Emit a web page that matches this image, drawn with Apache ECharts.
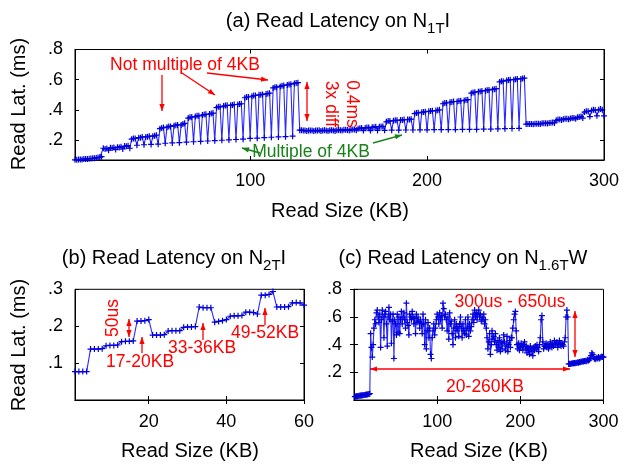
<!DOCTYPE html>
<html>
<head>
<meta charset="utf-8">
<script src="https://cdn.jsdelivr.net/npm/echarts@6/dist/echarts.min.js"></script>
<style>
  html, body { margin: 0; padding: 0; background: #fff; }
  #main { width: 623px; height: 467px; }
</style>
</head>
<body>
<div id="main"></div>
<script>
(function () {
    // (a) N1T I, read latency (ms) for read sizes 1..300 KB
    const latA = [
        0.068, 0.068, 0.070, 0.071, 0.071, 0.073, 0.074, 0.074, 0.076, 0.077, 0.078, 0.079, 0.081, 0.083, 0.085, 0.089,
        0.145, 0.140, 0.143, 0.132, 0.148, 0.146, 0.150, 0.137, 0.152, 0.150, 0.155, 0.140, 0.160, 0.158, 0.162, 0.145,
        0.205, 0.210, 0.210, 0.165, 0.215, 0.215, 0.220, 0.168, 0.220, 0.222, 0.225, 0.170, 0.225, 0.228, 0.232, 0.172,
        0.275, 0.280, 0.282, 0.178, 0.285, 0.290, 0.290, 0.180, 0.295, 0.298, 0.300, 0.182, 0.300, 0.305, 0.310, 0.185,
        0.345, 0.350, 0.352, 0.188, 0.355, 0.360, 0.360, 0.190, 0.365, 0.368, 0.370, 0.193, 0.372, 0.375, 0.378, 0.195,
        0.415, 0.420, 0.420, 0.198, 0.425, 0.428, 0.430, 0.200, 0.430, 0.432, 0.435, 0.203, 0.435, 0.438, 0.440, 0.205,
        0.480, 0.485, 0.485, 0.210, 0.490, 0.495, 0.495, 0.212, 0.500, 0.500, 0.502, 0.215, 0.505, 0.508, 0.510, 0.218,
        0.545, 0.550, 0.550, 0.220, 0.555, 0.560, 0.562, 0.222, 0.565, 0.568, 0.570, 0.225, 0.575, 0.578, 0.580, 0.265,
        0.265, 0.262, 0.263, 0.260, 0.262, 0.263, 0.262, 0.260, 0.263, 0.262, 0.264, 0.260, 0.263, 0.264, 0.262, 0.260,
        0.264, 0.265, 0.263, 0.260, 0.265, 0.266, 0.265, 0.262, 0.267, 0.268, 0.266, 0.263, 0.268, 0.270, 0.270, 0.265,
        0.275, 0.278, 0.280, 0.262, 0.280, 0.282, 0.283, 0.262, 0.285, 0.285, 0.287, 0.263, 0.288, 0.290, 0.290, 0.264,
        0.320, 0.325, 0.325, 0.265, 0.328, 0.330, 0.330, 0.265, 0.332, 0.333, 0.335, 0.266, 0.335, 0.336, 0.338, 0.266,
        0.375, 0.378, 0.380, 0.267, 0.383, 0.385, 0.387, 0.267, 0.390, 0.392, 0.393, 0.268, 0.395, 0.397, 0.400, 0.268,
        0.440, 0.445, 0.445, 0.268, 0.450, 0.452, 0.455, 0.269, 0.455, 0.458, 0.460, 0.270, 0.462, 0.465, 0.467, 0.270,
        0.510, 0.515, 0.517, 0.270, 0.520, 0.522, 0.525, 0.272, 0.527, 0.530, 0.532, 0.272, 0.535, 0.537, 0.540, 0.273,
        0.585, 0.590, 0.590, 0.275, 0.595, 0.597, 0.600, 0.276, 0.600, 0.602, 0.605, 0.277, 0.605, 0.608, 0.610, 0.305,
        0.305, 0.306, 0.305, 0.304, 0.307, 0.308, 0.307, 0.306, 0.310, 0.310, 0.311, 0.309, 0.313, 0.314, 0.315, 0.313,
        0.330, 0.335, 0.336, 0.333, 0.338, 0.340, 0.340, 0.337, 0.342, 0.345, 0.345, 0.340, 0.350, 0.352, 0.355, 0.345,
        0.385, 0.390, 0.390, 0.355, 0.395, 0.400, 0.398, 0.360, 0.400, 0.405, 0.400, 0.360
    ];

    // (b) N2T I, read sizes 1..60 KB
    const latB = [
        0.077, 0.077, 0.077, 0.077, 0.138, 0.138, 0.138, 0.139, 0.147, 0.148, 0.148, 0.149,
        0.158, 0.159, 0.159, 0.160, 0.214, 0.214, 0.215, 0.218, 0.176, 0.176, 0.176, 0.177,
        0.187, 0.188, 0.188, 0.188, 0.197, 0.198, 0.198, 0.199, 0.252, 0.250, 0.250, 0.250,
        0.211, 0.213, 0.215, 0.218, 0.227, 0.228, 0.228, 0.229, 0.238, 0.238, 0.237, 0.233,
        0.284, 0.284, 0.286, 0.294, 0.252, 0.252, 0.252, 0.253, 0.263, 0.264, 0.263, 0.257
    ];

    // (c) N1.6T W, read sizes 1..300 KB
    const latC = [
        0.025, 0.026, 0.027, 0.028, 0.029, 0.030, 0.031, 0.032, 0.033, 0.034, 0.035, 0.036, 0.037, 0.038, 0.039, 0.040, 0.041, 0.043, 0.046,
        0.48, 0.38, 0.31, 0.40, 0.52, 0.58, 0.55, 0.63, 0.65, 0.60,
        0.56, 0.62, 0.38, 0.58, 0.65, 0.60, 0.45, 0.62, 0.64, 0.55,
        0.39, 0.60, 0.67, 0.58, 0.62, 0.41, 0.57, 0.62, 0.30, 0.58,
        0.55, 0.47, 0.62, 0.49, 0.60, 0.48, 0.58, 0.64, 0.55, 0.60,
        0.63, 0.58, 0.52, 0.70, 0.56, 0.54, 0.47, 0.62, 0.60, 0.58,
        0.64, 0.60, 0.55, 0.59, 0.48, 0.62, 0.56, 0.60, 0.57, 0.52,
        0.58, 0.55, 0.48, 0.62, 0.55, 0.40, 0.58, 0.37, 0.50, 0.56,
        0.45, 0.52, 0.33, 0.30, 0.45, 0.50, 0.55, 0.47, 0.52, 0.58,
        0.62, 0.60, 0.55, 0.63, 0.58, 0.61, 0.52, 0.70, 0.66, 0.60,
        0.62, 0.58, 0.50, 0.60, 0.44, 0.63, 0.55, 0.57, 0.48, 0.40,
        0.52, 0.58, 0.45, 0.55, 0.50, 0.53, 0.46, 0.55, 0.60, 0.52,
        0.45, 0.55, 0.50, 0.48, 0.58, 0.47, 0.52, 0.60, 0.46, 0.55,
        0.50, 0.53, 0.58, 0.62, 0.56, 0.65, 0.60, 0.63, 0.58, 0.62,
        0.65, 0.60, 0.62, 0.57, 0.60, 0.58, 0.62, 0.55, 0.58, 0.52,
        0.45, 0.37, 0.42, 0.48, 0.33, 0.40, 0.50, 0.44, 0.46, 0.42,
        0.48, 0.40, 0.36, 0.43, 0.38, 0.45, 0.35, 0.42, 0.37, 0.41,
        0.47, 0.42, 0.36, 0.39, 0.46, 0.35, 0.40, 0.43, 0.38, 0.45,
        0.45, 0.52, 0.58, 0.62, 0.64, 0.50, 0.40, 0.37, 0.41, 0.36,
        0.38, 0.41, 0.39, 0.36, 0.40, 0.42, 0.37, 0.39, 0.34, 0.38,
        0.36, 0.33, 0.39, 0.35, 0.37, 0.32, 0.38, 0.36, 0.39, 0.37,
        0.40, 0.38, 0.35, 0.40, 0.45, 0.58, 0.61, 0.42, 0.37, 0.39,
        0.39, 0.41, 0.38, 0.40, 0.37, 0.39, 0.42, 0.40, 0.38, 0.41,
        0.39, 0.43, 0.40, 0.41, 0.42, 0.38, 0.40, 0.43, 0.41, 0.39,
        0.41, 0.40, 0.39, 0.42, 0.45, 0.60, 0.65, 0.60, 0.26, 0.262,
        0.26, 0.262, 0.265, 0.263, 0.266, 0.268, 0.265, 0.27, 0.268, 0.272,
        0.27, 0.275, 0.273, 0.278, 0.276, 0.28, 0.278, 0.282, 0.28, 0.285,
        0.28, 0.29, 0.285, 0.29, 0.30, 0.32, 0.34, 0.33, 0.31, 0.30,
        0.295, 0.30, 0.305, 0.30, 0.31, 0.30, 0.305, 0.31, 0.315, 0.31,
        0.31
    ];

    const xTicksA = [100, 200, 300];
    const yTicksA = [0.2, 0.4, 0.6, 0.8];
    const xTicksB = [20, 40, 60];
    const yTicksB = [0.1, 0.2, 0.3];
    const xTicksC = [100, 200, 300];
    const yTicksC = [0.2, 0.4, 0.6, 0.8];

    const FONT = '"Liberation Sans", Arial, Helvetica, sans-serif';
    const RED = '#ff0000';
    const GREEN = '#1a801a';
    const plus = 'path://M2,0h1v2h2v1h-2v2h-1v-2h-2v-1h2z';

    const toPoints = function (arr) {
        return arr.map(function (v, i) { return [i + 1, v]; });
    };
    const fmtY = function (v) { return ('' + v).replace(/^0\./, '.'); };

    function xAxes(grid, min, max, ticks, margin) {
        const base = {
            gridIndex: grid, type: 'value', min: min, max: max,
            axisLine: { show: true, lineStyle: { color: '#000', width: 1 } },
            splitLine: { show: false }
        };
        return [
            Object.assign({}, base, {
                position: 'bottom',
                axisTick: { inside: true, length: 4, customValues: ticks, lineStyle: { color: '#000' } },
                axisLabel: { customValues: ticks, margin: margin, color: '#000', fontSize: 18, fontFamily: FONT }
            }),
            Object.assign({}, base, {
                position: 'top',
                axisTick: { inside: true, length: 4, customValues: ticks, lineStyle: { color: '#000' } },
                axisLabel: { show: false }
            })
        ];
    }

    function yAxes(grid, min, max, ticks) {
        const base = {
            gridIndex: grid, type: 'value', min: min, max: max,
            axisLine: { show: true, lineStyle: { color: '#000', width: 1 } },
            splitLine: { show: false }
        };
        return [
            Object.assign({}, base, {
                position: 'left',
                axisTick: { inside: true, length: 4, customValues: ticks, lineStyle: { color: '#000' } },
                axisLabel: { customValues: ticks, formatter: fmtY, margin: 12, color: '#000', fontSize: 18, fontFamily: FONT }
            }),
            Object.assign({}, base, {
                position: 'right',
                axisTick: { inside: true, length: 4, customValues: ticks, lineStyle: { color: '#000' } },
                axisLabel: { show: false }
            })
        ];
    }

    function line(data, xi, yi) {
        return {
            type: 'line', xAxisIndex: xi, yAxisIndex: yi, data: data,
            symbol: plus, symbolSize: 6, showAllSymbol: true,
            lineStyle: { color: '#2a2aff', width: 1.1 },
            itemStyle: { color: '#0000d8' },
            animation: false, silent: true
        };
    }

    // annotation helpers
    function head(xa, ya, xb, yb, color) {
        const a = Math.atan2(yb - ya, xb - xa), L = 7, W = 2.6;
        const bx = xb - L * Math.cos(a), by = yb - L * Math.sin(a);
        return {
            type: 'polygon',
            shape: { points: [[xb, yb], [bx + W * Math.sin(a), by - W * Math.cos(a)], [bx - W * Math.sin(a), by + W * Math.cos(a)]] },
            style: { fill: color }
        };
    }
    function arrow(x1, y1, x2, y2, color, both) {
        const els = [
            { type: 'line', shape: { x1: x1, y1: y1, x2: x2, y2: y2 }, style: { stroke: color, lineWidth: 1.3 } },
            head(x1, y1, x2, y2, color)
        ];
        if (both) els.push(head(x2, y2, x1, y1, color));
        return els;
    }
    function text(x, y, str, color, size, rot) {
        return {
            type: 'text', x: x, y: y, rotation: rot || 0,
            style: { text: str, fill: color, font: size + 'px ' + FONT, align: 'center', verticalAlign: 'middle', lineHeight: 21 }
        };
    }

    // title with a subscript: pieces measured so they can be centred as a whole
    const measure = document.createElement('canvas').getContext('2d');
    function title(cx, baseY, main, sub, tail) {
        const fm = '20px ' + FONT, fs = '15px ' + FONT;
        measure.font = fm;
        const w1 = measure.measureText(main).width, w3 = measure.measureText(tail).width;
        measure.font = fs;
        const w2 = measure.measureText(sub).width;
        const x0 = cx - (w1 + w2 + w3) / 2;
        const piece = function (x, y, str, font) {
            return { type: 'text', x: x, y: y, style: { text: str, font: font, fill: '#000', align: 'left', verticalAlign: 'bottom' } };
        };
        return [
            piece(x0, baseY, main, fm),
            piece(x0 + w1, baseY + 5, sub, fs),
            piece(x0 + w1 + w2, baseY, tail, fm)
        ];
    }

    const graphics = [].concat(
        title(338, 31, '(a) Read Latency on N', '1T', 'I'),
        title(174, 268, '(b) Read Latency on N', '2T', 'I'),
        title(463, 268, '(c) Read Latency on N', '1.6T', 'W'),
        text(340, 211, 'Read Size (KB)', '#000', 20),
        text(190, 451, 'Read Size (KB)', '#000', 20),
        text(479, 451, 'Read Size (KB)', '#000', 20),
        text(19, 104, 'Read Lat. (ms)', '#000', 20, Math.PI / 2),
        text(19, 345, 'Read Lat. (ms)', '#000', 20, Math.PI / 2),
        // (a)
        text(185, 65, 'Not multiple of 4KB', RED, 17.5),
        arrow(162, 75, 162, 111, RED),
        arrow(182, 73, 215, 95, RED),
        arrow(207, 73, 268, 80, RED),
        arrow(307, 82, 307, 121, RED, true),
        text(341, 104, '0.4ms\n3x diff', RED, 17.5, -Math.PI / 2),
        text(311, 152, 'Multiple of 4KB', GREEN, 17.5),
        arrow(260, 153, 242, 148, GREEN),
        arrow(373, 143, 402, 135, GREEN),
        // (b)
        text(113, 318, '50us', RED, 17.5, Math.PI / 2),
        arrow(129, 319, 129, 337, RED, true),
        text(140, 362, '17-20KB', RED, 17.5),
        arrow(142, 353, 142, 337, RED),
        text(202, 348, '33-36KB', RED, 17.5),
        arrow(203, 340, 203, 323, RED),
        text(265, 333, '49-52KB', RED, 17.5),
        arrow(265, 325, 265, 308, RED),
        // (c)
        text(510, 302, '300us - 650us', RED, 17.5),
        arrow(575, 311, 575, 357, RED, true),
        arrow(370, 369, 570, 369, RED, true),
        text(485, 387, '20-260KB', RED, 17.5)
    );

    const option = {
        backgroundColor: '#fff',
        animation: false,
        grid: [
            { left: 75, right: 19, top: 49.5, height: 110.5, show: true, borderColor: '#000', borderWidth: 1 },
            { left: 75, width: 229, top: 289.3, height: 110.7, show: true, borderColor: '#000', borderWidth: 1 },
            { left: 354, width: 249.5, top: 289.3, height: 110.7, show: true, borderColor: '#000', borderWidth: 1 }
        ],
        xAxis: [].concat(
            xAxes(0, 1, 300, xTicksA, 12),
            xAxes(1, 1, 60, xTicksB, 13),
            xAxes(2, 0, 300, xTicksC, 13)
        ),
        yAxis: [].concat(
            yAxes(0, 0.067, 0.8, yTicksA),
            yAxes(1, 0, 0.3, yTicksB),
            yAxes(2, 0, 0.8, yTicksC)
        ),
        series: [
            line(toPoints(latA), 0, 0),
            line(toPoints(latB), 2, 2),
            line(toPoints(latC), 4, 4)
        ],
        graphic: graphics
    };

    const myChart = echarts.init(document.getElementById('main'), null, { renderer: 'canvas' });
    myChart.setOption(option);
}());
</script>
</body>
</html>
